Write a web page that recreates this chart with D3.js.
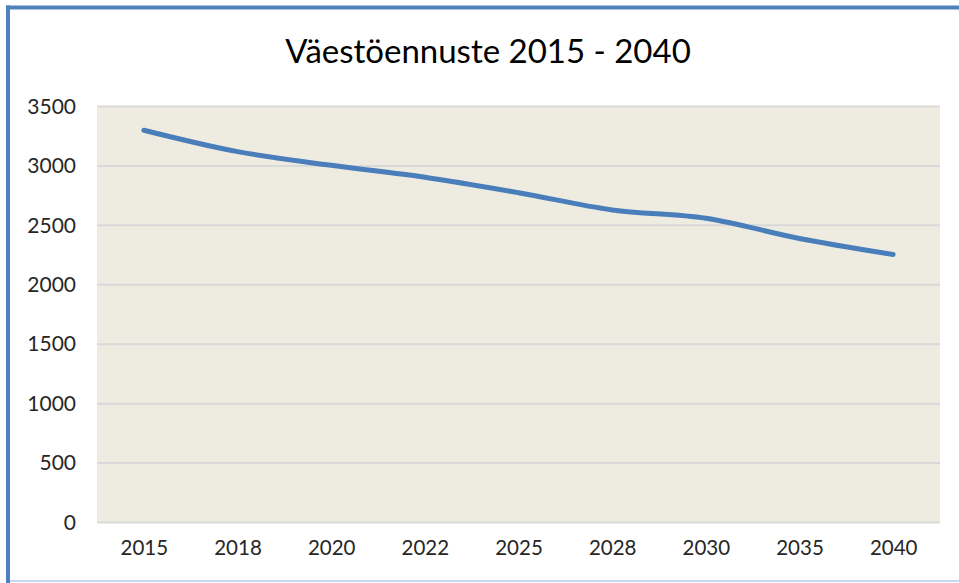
<!DOCTYPE html>
<html>
<head>
<meta charset="utf-8">
<script src="https://cdn.jsdelivr.net/npm/d3@7"></script>
<style>
  html, body { margin: 0; padding: 0; background: #ffffff; }
  svg { display: block; }
</style>
</head>
<body>
<svg id="chart" width="959" height="583"></svg>
<script>
const title = "Väestöennuste 2015 - 2040";
const years = ["2015", "2018", "2020", "2022", "2025", "2028", "2030", "2035", "2040"];
const population = [3300, 3120, 3005, 2905, 2775, 2630, 2560, 2390, 2255];
const yTicks = [0, 500, 1000, 1500, 2000, 2500, 3000, 3500];

const svg = d3.select("#chart");
const W = 959, H = 583;
const plot = { left: 97, right: 940, top: 106.5, bottom: 522.5 };
const font = "Lato, 'Open Sans', sans-serif";

// frame
svg.append("line").attr("x1", 6).attr("x2", W).attr("y1", 7.5).attr("y2", 7.5)
  .attr("stroke", "#4F81BD").attr("stroke-width", 4);
svg.append("line").attr("x1", 8).attr("x2", 8).attr("y1", 5.5).attr("y2", H)
  .attr("stroke", "#4F81BD").attr("stroke-width", 4);
svg.append("line").attr("x1", 10).attr("x2", W).attr("y1", 581).attr("y2", 581)
  .attr("stroke", "#C6D9F1").attr("stroke-width", 2);

const x = d3.scalePoint().domain(years).range([plot.left, plot.right]).padding(0.5);
const y = d3.scaleLinear().domain([0, 3500]).range([plot.bottom, plot.top]);

// plot background
svg.append("rect").attr("x", plot.left).attr("y", plot.top)
  .attr("width", plot.right - plot.left).attr("height", plot.bottom - plot.top)
  .attr("fill", "#EEECE1");

// gridlines
svg.append("g").selectAll("line").data(yTicks).join("line")
  .attr("x1", plot.left).attr("x2", plot.right)
  .attr("y1", d => y(d)).attr("y2", d => y(d))
  .attr("stroke", "#D9D9D9").attr("stroke-width", 2);

// y axis
const yAxis = svg.append("g").attr("transform", `translate(${plot.left},0)`)
  .call(d3.axisLeft(y).tickValues(yTicks).tickSize(0).tickPadding(21).tickFormat(d3.format("d")));
yAxis.select(".domain").remove();
yAxis.selectAll("text").attr("font-family", font).attr("font-size", 21).attr("fill", "#262626");

// x axis
const xAxis = svg.append("g").attr("transform", `translate(0,${plot.bottom})`)
  .call(d3.axisBottom(x).tickSize(0).tickPadding(18));
xAxis.select(".domain").remove();
xAxis.selectAll("text").attr("font-family", font).attr("font-size", 20.5).attr("fill", "#262626");

// line
const line = d3.line()
  .x((d, i) => x(years[i]))
  .y(d => y(d))
  .curve(d3.curveCatmullRom.alpha(0.5));
svg.append("path").datum(population)
  .attr("d", line)
  .attr("fill", "none")
  .attr("stroke", "#4A7EBB")
  .attr("stroke-width", 5)
  .attr("stroke-linecap", "round")
  .attr("stroke-linejoin", "round");

// title
svg.append("text").attr("x", 488).attr("y", 63)
  .attr("text-anchor", "middle")
  .attr("font-family", font).attr("font-size", 33).attr("fill", "#000")
  .text(title);
</script>
</body>
</html>
